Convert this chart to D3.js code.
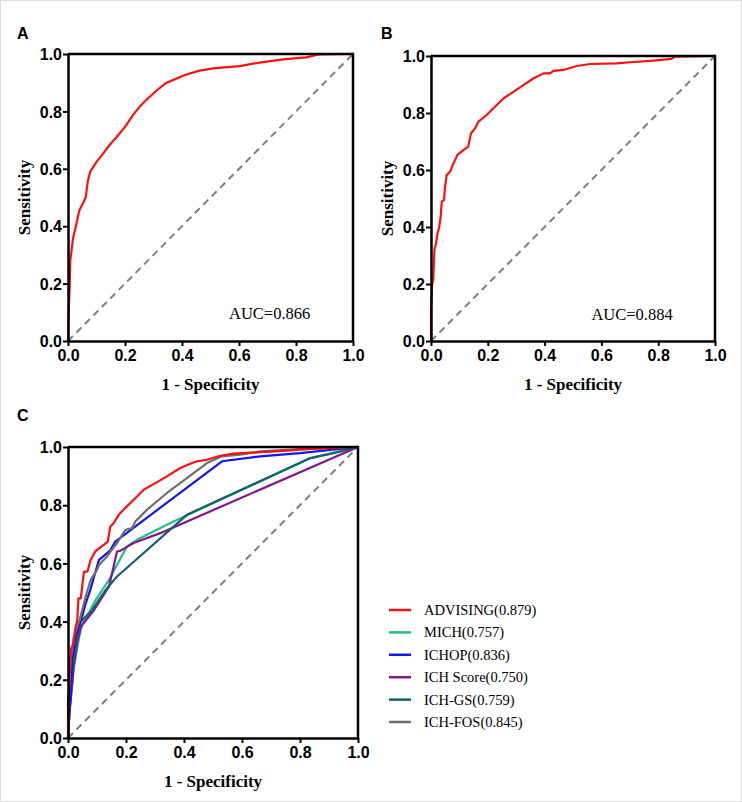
<!DOCTYPE html>
<html><head><meta charset="utf-8">
<script src="https://cdn.jsdelivr.net/npm/d3@7"></script>
<style>html,body{margin:0;padding:0;background:#fff}svg{display:block}</style>
</head><body>
<script>
// ---------- DATA ----------
const ticks = [0, 0.2, 0.4, 0.6, 0.8, 1.0];
const tickLabels = ["0.0","0.2","0.4","0.6","0.8","1.0"];

const aFpr = [0,0.002,0.006,0.008,0.018,0.03,0.04,0.055,0.062,0.07,0.078,0.1,0.123,0.146,0.17,0.2,0.228,0.251,0.28,0.31,0.342,0.368,0.41,0.462,0.509,0.602,0.672,0.754,0.836,0.883,1];
const aTpr = [0,0.095,0.19,0.28,0.36,0.41,0.456,0.485,0.50,0.56,0.59,0.624,0.653,0.683,0.71,0.746,0.787,0.816,0.845,0.872,0.898,0.909,0.927,0.942,0.95,0.958,0.97,0.981,0.988,0.999,1];
const aAuc = "AUC=0.866";

const bFpr = [0,0,0.004,0.008,0.012,0.018,0.023,0.029,0.034,0.038,0.046,0.049,0.055,0.067,0.079,0.093,0.114,0.131,0.141,0.155,0.167,0.196,0.225,0.255,0.29,0.325,0.36,0.396,0.419,0.431,0.466,0.513,0.56,0.653,0.701,0.783,0.847,0.859,1];
const bTpr = [0,0.109,0.2,0.214,0.32,0.343,0.378,0.40,0.436,0.489,0.495,0.536,0.582,0.594,0.623,0.653,0.67,0.682,0.729,0.746,0.77,0.793,0.822,0.851,0.874,0.898,0.921,0.939,0.939,0.948,0.951,0.965,0.972,0.974,0.978,0.984,0.99,0.998,1];
const bAuc = "AUC=0.884";

const cNames = ["ADVISING(0.879)","MICH(0.757)","ICHOP(0.836)","ICH Score(0.750)","ICH-GS(0.759)","ICH-FOS(0.845)"];
const advFpr = [0,0,0.003,0.006,0.011,0.02,0.024,0.032,0.036,0.044,0.055,0.067,0.078,0.094,0.123,0.137,0.146,0.157,0.175,0.203,0.232,0.261,0.301,0.341,0.387,0.428,0.445,0.479,0.525,0.571,0.663,0.744,0.824,1];
const advTpr = [0,0.15,0.153,0.233,0.308,0.325,0.371,0.405,0.48,0.48,0.572,0.572,0.612,0.641,0.664,0.675,0.727,0.738,0.767,0.796,0.824,0.853,0.876,0.899,0.928,0.945,0.951,0.956,0.97,0.977,0.982,0.987,0.993,1];
const michFpr = [0,0.005,0.012,0.02,0.037,0.049,0.072,0.095,0.141,0.203,0.238,0.353,0.836,1];
const michTpr = [0,0.09,0.16,0.24,0.34,0.39,0.43,0.474,0.543,0.658,0.681,0.739,0.962,1];
const ichopFpr = [0,0.005,0.01,0.015,0.026,0.044,0.061,0.077,0.09,0.107,0.146,0.163,0.531,0.663,0.8,1];
const ichopTpr = [0,0.09,0.153,0.268,0.348,0.40,0.463,0.509,0.555,0.612,0.645,0.675,0.951,0.968,0.979,1];
const scoreFpr = [0,0.005,0.012,0.02,0.032,0.044,0.09,0.141,0.146,0.169,0.18,0.226,0.318,1];
const scoreTpr = [0,0.09,0.16,0.25,0.33,0.382,0.44,0.52,0.54,0.641,0.643,0.67,0.704,1];
const gsFpr = [0,0.003,0.009,0.02,0.038,0.084,0.106,0.13,0.169,0.41,0.836,0.916,1];
const gsTpr = [0,0.085,0.176,0.268,0.394,0.44,0.474,0.509,0.555,0.767,0.962,0.979,1];
const fosFpr = [0,0.003,0.009,0.02,0.04,0.049,0.061,0.078,0.1,0.107,0.134,0.169,0.198,0.221,0.232,0.272,0.341,0.41,0.479,0.531,0.594,0.663,0.8,1];
const fosTpr = [0,0.153,0.268,0.348,0.405,0.44,0.486,0.543,0.578,0.595,0.623,0.67,0.715,0.721,0.744,0.784,0.842,0.893,0.945,0.968,0.974,0.985,0.993,1];
const cColors = ["#ff1010","#1fc08c","#1414f0","#84168c","#17606e","#6e6e6e"];

// ---------- DRAW ----------
const W = 742, H = 802;
const svg = d3.select("body").append("svg").attr("width", W).attr("height", H);
svg.append("rect").attr("x",0.5).attr("y",0.5).attr("width",W-1).attr("height",H-1)
  .attr("fill","#fff").attr("stroke","#dedede");

const sans = "'Liberation Sans', Arial, sans-serif";
const serif = "'Liberation Serif', 'Times New Roman', serif";

function panel(x0, x1, yTop, yBot, label, lx, ly, series) {
  const x = d3.scaleLinear().domain([0,1]).range([x0,x1]);
  const y = d3.scaleLinear().domain([0,1]).range([yBot,yTop]);
  const g = svg.append("g");
  g.append("line").attr("x1",x(0)).attr("y1",y(0)).attr("x2",x(1)).attr("y2",y(1))
    .attr("stroke","#808080").attr("stroke-width",2).attr("stroke-dasharray","7,5");
  const line = d3.line().x(d=>x(d[0])).y(d=>y(d[1]));
  series.forEach(s => {
    g.append("path").datum(s.fpr.map((v,i)=>[v,s.tpr[i]]))
      .attr("d",line).attr("fill","none").attr("stroke",s.color)
      .attr("stroke-width",2.2).attr("stroke-linejoin","round");
  });
  g.append("line").attr("x1",x0).attr("x2",x1).attr("y1",yTop).attr("y2",yTop)
    .attr("stroke","#000").attr("stroke-width",2.5);
  g.append("line").attr("x1",x1).attr("x2",x1).attr("y1",yTop-1.25).attr("y2",yBot)
    .attr("stroke","#000").attr("stroke-width",2.5);
  const fmt = (d,i) => tickLabels[i];
  const ax = g.append("g").attr("transform",`translate(0,${yBot})`)
    .call(d3.axisBottom(x).tickValues(ticks).tickFormat(fmt).tickSize(5).tickSizeOuter(0).tickPadding(4));
  const ay = g.append("g").attr("transform",`translate(${x0},0)`)
    .call(d3.axisLeft(y).tickValues(ticks).tickFormat(fmt).tickSize(5).tickSizeOuter(0).tickPadding(1));
  [ax, ay].forEach(a => {
    a.select(".domain").attr("stroke","#000").attr("stroke-width",2.5);
    a.selectAll(".tick line").attr("stroke","#000").attr("stroke-width",2);
    a.selectAll(".tick text").attr("fill","#000").style("font-family",sans)
      .style("font-size","16px").style("font-weight","bold");
  });
  ay.selectAll(".tick text").attr("dy","0.36em");
  g.append("text").attr("x",(x0+x1)/2).attr("y",yBot+49).attr("text-anchor","middle")
    .style("font-family",serif).style("font-size","17px").style("font-weight","bold").text("1 - Specificity");
  g.append("text").attr("transform",`translate(${x0-38},${(yTop+yBot)/2}) rotate(-90)`)
    .attr("text-anchor","middle").style("font-family",serif).style("font-size","17px")
    .style("font-weight","bold").text("Sensitivity");
  g.append("text").attr("x",lx).attr("y",ly).style("font-family",sans).style("font-size","16px")
    .style("font-weight","bold").text(label);
  return {x, y, g};
}

const A = panel(68, 353, 54, 341, "A", 17, 39, [{fpr:aFpr,tpr:aTpr,color:cColors[0]}]);
A.g.append("text").attr("x",A.x(0.565)).attr("y",A.y(0.075)).style("font-family",serif)
  .style("font-size","16.5px").text(aAuc);

const B = panel(431, 715, 56, 341, "B", 381, 39, [{fpr:bFpr,tpr:bTpr,color:cColors[0]}]);
B.g.append("text").attr("x",B.x(0.565)).attr("y",B.y(0.075)).style("font-family",serif)
  .style("font-size","16.5px").text(bAuc);

const cSeries = [
  {fpr:michFpr,tpr:michTpr,color:cColors[1]},
  {fpr:scoreFpr,tpr:scoreTpr,color:cColors[3]},
  {fpr:gsFpr,tpr:gsTpr,color:cColors[4]},
  {fpr:ichopFpr,tpr:ichopTpr,color:cColors[2]},
  {fpr:fosFpr,tpr:fosTpr,color:cColors[5]},
  {fpr:advFpr,tpr:advTpr,color:cColors[0]}
];
const C = panel(68, 358, 447, 738, "C", 17, 421, cSeries);

const leg = svg.append("g");
cNames.forEach((n,i) => {
  const yy = 610 + i*22.4;
  leg.append("line").attr("x1",389).attr("x2",411).attr("y1",yy).attr("y2",yy)
    .attr("stroke",cColors[i]).attr("stroke-width",2.5);
  leg.append("text").attr("x",424).attr("y",yy).attr("dy","0.35em")
    .style("font-family",serif).style("font-size","14.5px").text(n);
});
</script>
</body></html>
